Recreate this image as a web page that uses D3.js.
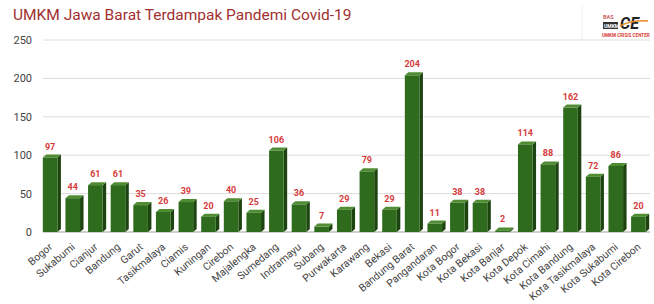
<!DOCTYPE html>
<html>
<head>
<meta charset="utf-8">
<script src="https://cdn.jsdelivr.net/npm/d3@7"></script>
<style>
  body { margin: 0; background: #fff; }
  svg { display: block; font-family: Roboto, "Liberation Sans", Arial, sans-serif; }
</style>
</head>
<body>
<svg id="chart" width="654" height="304"></svg>
<script>
// kabupaten / kota names along the x axis
const categories = ["Bogor", "Sukabumi", "Cianjur", "Bandung", "Garut", "Tasikmalaya", "Ciamis",
  "Kuningan", "Cirebon", "Majalengka", "Sumedang", "Indramayu", "Subang", "Purwakarta",
  "Karawang", "Bekasi", "Bandung Barat", "Pangandaran", "Kota Bogor", "Kota Bekasi",
  "Kota Banjar", "Kota Depok", "Kota Cimahi", "Kota Bandung", "Kota Tasikmalaya",
  "Kota Sukabumi", "Kota Cirebon"];
// number of UMKM affected
const values = [97, 44, 61, 61, 35, 26, 39, 20, 40, 25, 106, 36, 7, 29, 79, 29, 204, 11,
  38, 38, 2, 114, 88, 162, 72, 86, 20];
const yTicks = [0, 50, 100, 150, 200, 250];

const svg = d3.select("#chart");
const margin = { left: 41, right: 3, top: 40, bottom: 72 };
const W = 654, H = 304;

const x = d3.scaleBand().domain(categories).range([margin.left, W - margin.right]).paddingInner(0.2).paddingOuter(0.08);
const y = d3.scaleLinear().domain([0, 250]).range([H - margin.bottom, margin.top]);

// depth of the fake 3d look
const dx = 3.5, dy = 3;

// title
svg.append("text")
   .attr("x", 13).attr("y", 20)
   .attr("fill", "#a23131")
   .attr("font-size", 15.5)
   .text("UMKM Jawa Barat Terdampak Pandemi Covid-19");

// gridlines + y labels
const grid = svg.append("g");
yTicks.forEach(t => {
  grid.append("line")
      .attr("x1", margin.left + 2).attr("x2", W - 4)
      .attr("y1", y(t)).attr("y2", y(t))
      .attr("stroke", t === 0 ? "#9aa58f" : "#dcdcdc")
      .attr("stroke-width", 1);
  grid.append("text")
      .attr("x", 32).attr("y", y(t) + 4)
      .attr("text-anchor", "end")
      .attr("font-size", 11)
      .attr("fill", "#444")
      .text(t);
});

// bars
const fw = x.bandwidth() - dx;
const bars = svg.append("g").selectAll("g").data(categories).join("g");
bars.each(function(c, i) {
  const g = d3.select(this);
  const x0 = x(c), top = y(values[i]), base = y(0);
  // side
  g.append("path")
   .attr("d", `M${x0 + fw},${top} L${x0 + fw + dx},${top - dy} L${x0 + fw + dx},${base - dy} L${x0 + fw},${base} Z`)
   .attr("fill", "#1d4410");
  // top
  g.append("path")
   .attr("d", `M${x0},${top} L${x0 + dx},${top - dy} L${x0 + fw + dx},${top - dy} L${x0 + fw},${top} Z`)
   .attr("fill", "#4f8c32");
  // front
  g.append("rect")
   .attr("x", x0).attr("y", top)
   .attr("width", fw).attr("height", base - top)
   .attr("fill", "#2f6b1d");
  // value
  g.append("text")
   .attr("x", x0 + fw / 2).attr("y", top - dy - 5)
   .attr("text-anchor", "middle")
   .attr("font-size", 9)
   .attr("font-weight", "bold")
   .attr("fill", "#d63b3b")
   .text(values[i]);
});

// x labels
svg.append("g").selectAll("text").data(categories).join("text")
   .attr("transform", d => `translate(${x(d) + fw / 2 + 3},${y(0) + 16}) rotate(-40)`)
   .attr("text-anchor", "end")
   .attr("font-size", 10.5)
   .attr("fill", "#444")
   .text(d => d);

// logo (UMKM Crisis Center)
const logo = svg.append("g").attr("transform", "translate(602,13)");
logo.append("line").attr("x1", -20).attr("x2", -20).attr("y1", -8).attr("y2", 26).attr("stroke", "#eee");
logo.append("text").attr("x", 1).attr("y", 6).attr("font-size", 5.5).attr("font-weight", "bold").attr("fill", "#c96060").text("BAS");
logo.append("rect").attr("x", 1).attr("y", 9).attr("width", 15).attr("height", 7).attr("fill", "#333");
logo.append("text").attr("x", 2).attr("y", 14.5).attr("font-size", 5).attr("font-weight", "bold").attr("fill", "#fff").text("UMKM");
logo.append("text").attr("x", 18).attr("y", 16).attr("font-size", 16).attr("font-weight", "bold").attr("font-style", "italic").attr("fill", "#222").text("CE");
logo.append("path").attr("d", "M18,13 Q30,7 46,8").attr("stroke", "#e8892a").attr("stroke-width", 1.5).attr("fill", "none");
logo.append("text").attr("x", 0).attr("y", 24).attr("font-size", 4.6).attr("font-weight", "bold").attr("fill", "#d9423a").text("UMKM CRISIS CENTER");
</script>
</body>
</html>
